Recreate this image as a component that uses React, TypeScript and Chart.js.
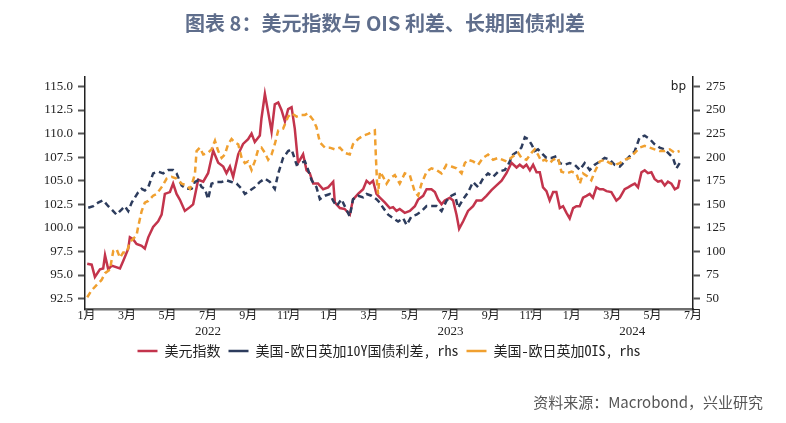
import { useEffect, useRef } from 'react';
import { Chart, registerables } from 'chart.js';

Chart.register(...registerables);

const TITLE = '图表 8：美元指数与 OIS 利差、长期国债利差';
const SOURCE = '资料来源：Macrobond，兴业研究';
const seriesNames = ['美元指数', '美国-欧日英加10Y国债利差, rhs', '美国-欧日英加OIS, rhs'];

// x values are months elapsed since 1 Jan 2022
const monthTicks = [0, 2, 4, 6, 8, 10, 12, 14, 16, 18, 20, 22, 24, 26, 28, 30];
const yearLabels = ['2022', '2023', '2024'];
const yearCenters = [6, 18, 27];
const yearStarts = [0, 12, 24];
const leftTicks = [92.5, 95, 97.5, 100, 102.5, 105, 107.5, 110, 112.5, 115];
const rightTicks = [50, 75, 100, 125, 150, 175, 200, 225, 250, 275];

const dxyMonths = [
  0.03, 0.25, 0.41, 0.66, 0.82, 0.91, 1.07, 1.24, 1.65, 1.81,
  2.06, 2.14, 2.3, 2.47, 2.72, 2.88, 3.05, 3.29, 3.54, 3.71,
  3.87, 4.12, 4.28, 4.45, 4.61, 4.86, 5.11, 5.27, 5.52, 5.77,
  6.01, 6.26, 6.51, 6.76, 6.92, 7.09, 7.25, 7.5, 7.74, 7.99,
  8.16, 8.32, 8.57, 8.65, 8.82, 8.98, 9.15, 9.31, 9.48, 9.64,
  9.81, 9.97, 10.14, 10.3, 10.46, 10.55, 10.71, 10.88, 11.04, 11.21,
  11.45, 11.7, 11.95, 12.2, 12.28, 12.53, 12.77, 13.02, 13.18, 13.43,
  13.68, 13.85, 14.01, 14.17, 14.34, 14.51, 14.75, 15.0, 15.16, 15.33,
  15.49, 15.74, 15.99, 16.24, 16.4, 16.65, 16.82, 17.06, 17.23, 17.39,
  17.56, 17.72, 17.97, 18.13, 18.3, 18.43, 18.63, 18.87, 19.12, 19.29,
  19.54, 19.78, 20.03, 20.28, 20.53, 20.77, 21.02, 21.27, 21.43, 21.6,
  21.76, 21.93, 22.09, 22.26, 22.42, 22.58, 22.75, 22.91, 23.08, 23.24,
  23.41, 23.57, 23.74, 23.9, 24.07, 24.23, 24.4, 24.56, 24.73, 24.89,
  25.05, 25.22, 25.39, 25.55, 25.72, 25.96, 26.21, 26.38, 26.62, 26.79,
  26.95, 27.12, 27.28, 27.45, 27.61, 27.77, 27.94, 28.1, 28.27, 28.44,
  28.6, 28.76, 28.93, 29.1, 29.26, 29.34,
];
const dxyValues = [
  96.2, 96.1, 94.8, 95.6, 95.7, 97.1, 95.6, 96.0, 95.7, 96.5,
  97.8, 99.0, 98.8, 98.3, 98.1, 97.8, 99.0, 100.1, 100.7, 101.4,
  103.6, 103.8, 104.7, 103.6, 103.0, 101.8, 102.2, 102.5, 105.1, 104.9,
  105.8, 108.2, 106.9, 106.5, 105.8, 106.5, 105.4, 107.8, 108.9, 109.4,
  110.0, 109.1, 109.8, 111.6, 114.2, 112.3, 110.2, 113.1, 113.3, 112.5,
  111.3, 112.6, 112.8, 110.5, 106.9, 107.2, 107.8, 106.1, 105.8, 104.7,
  104.7, 104.1, 104.3, 104.9, 102.7, 102.1, 102.0, 101.4, 103.0, 103.6,
  104.1, 105.0, 104.7, 105.0, 103.6, 103.2, 102.7, 102.1, 102.2, 101.8,
  102.0, 101.6, 101.8, 102.3, 103.0, 103.4, 104.1, 104.1, 103.8, 103.0,
  102.5, 102.9, 103.2, 102.9, 101.4, 99.9, 100.7, 101.8, 102.3, 102.9,
  102.9, 103.4, 104.0, 104.5, 105.0, 105.8, 106.9, 106.4, 106.7, 106.4,
  106.7, 106.1, 106.7, 105.9, 105.9, 104.3, 103.9, 102.9, 103.8, 103.8,
  102.1, 102.3, 101.6, 101.0, 102.1, 102.3, 102.3, 103.2, 103.4, 103.6,
  103.2, 104.3, 104.1, 104.1, 103.9, 103.8, 102.9, 103.2, 104.1, 104.3,
  104.5, 104.7, 104.3, 105.9, 106.1, 105.8, 105.9, 105.2, 104.9, 105.0,
  104.5, 104.9, 104.7, 104.1, 104.3, 105.1,
];

const bondMonths = [
  0.08, 0.33, 0.57, 0.82, 1.07, 1.24, 1.48, 1.73, 1.89, 2.06,
  2.23, 2.39, 2.55, 2.72, 2.88, 3.05, 3.29, 3.54, 3.79, 4.04,
  4.28, 4.45, 4.7, 4.95, 5.19, 5.36, 5.52, 5.69, 5.85, 6.01,
  6.18, 6.43, 6.68, 6.92, 7.17, 7.42, 7.67, 7.83, 8.08, 8.32,
  8.57, 8.82, 9.07, 9.31, 9.48, 9.72, 9.97, 10.14, 10.39, 10.55,
  10.8, 10.96, 11.13, 11.37, 11.54, 11.79, 12.03, 12.2, 12.37, 12.61,
  12.77, 13.02, 13.18, 13.43, 13.68, 13.85, 14.09, 14.34, 14.51, 14.67,
  14.92, 15.16, 15.41, 15.66, 15.83, 16.07, 16.32, 16.57, 16.82, 17.06,
  17.31, 17.56, 17.8, 18.05, 18.21, 18.38, 18.63, 18.87, 19.12, 19.37,
  19.61, 19.86, 20.11, 20.36,
  20.69, 20.85, 21.1, 21.35, 21.51, 21.68, 21.84, 22.01, 22.17, 22.33,
  22.5, 22.75, 23.0, 23.24, 23.41, 23.65, 23.9, 24.15, 24.4, 24.64,
  24.89, 25.14, 25.39, 25.63, 25.88, 26.13, 26.38, 26.62, 26.87, 27.12,
  27.36, 27.61, 27.86, 28.1, 28.35, 28.6, 28.85, 29.01, 29.18, 29.34,
];
const bondSpread = [
  146.3, 148, 151.8, 154.3, 148, 144.5, 139, 144.5, 148, 142.7,
  151.8, 157.3, 162.8, 166.4, 164.6, 168.2, 182.8, 184.6, 182.8, 186.4,
  186.4, 182.8, 170, 166.4, 166.4, 173.7, 175.5, 168.2, 166.4, 155.4,
  171.9, 173.7, 173.7, 175.5, 173.7, 171.9, 166.4, 160.9, 164.6, 168.2,
  173.7, 177.3, 173.7, 166.4, 182.8, 199.2, 206.5, 208.3, 191.9, 193.7,
  195.5, 186.4, 175.5, 168.2, 155.4, 159.1, 160.9, 153.6, 148.1, 155.4,
  148.1, 137.2, 155.4, 159.1, 157.3, 160.9, 159.1, 155.4, 151.8, 146.3,
  139, 135.3, 131.7, 135.3, 128.1, 137.2, 139, 142.7, 148.1, 148.1,
  148.1, 142.7, 153.6, 159.1, 160.9, 146.3, 155.4, 162.7, 173.7, 168.2,
  177.3, 182.8, 179.1, 184.6,
  186.4, 191.9, 202.8, 206.5, 210.1, 221, 219.2, 213.7, 206.5, 208.3,
  204.6, 199.2, 199.2, 201, 193.7, 191.9, 193.7, 191.9, 186.4, 193.7,
  186.4, 191.9, 195.5, 199.2, 197.3, 191.9, 190.1, 195.5, 201, 206.5,
  221, 222.8, 219.2, 213.7, 210.1, 208.3, 202.8, 199.2, 188.2, 193.7,
];

const oisMonths = [
  0.03, 0.25, 0.49, 0.74, 0.91, 1.15, 1.32, 1.48, 1.65, 1.81,
  1.98, 2.14, 2.3, 2.47, 2.55, 2.72, 2.88, 3.05, 3.29, 3.46,
  3.71, 3.96, 4.2, 4.45, 4.7, 4.95, 5.11, 5.27, 5.36, 5.44,
  5.6, 5.77, 6.01, 6.18, 6.35, 6.51, 6.68, 6.84, 7.0, 7.17,
  7.33, 7.5, 7.67, 7.83, 7.99, 8.16, 8.32, 8.49, 8.65, 8.82,
  8.98, 9.15, 9.31, 9.48, 9.72, 9.97, 10.14, 10.39, 10.63, 10.8,
  10.96, 11.21, 11.37, 11.54, 11.79, 12.03, 12.28, 12.53, 12.77, 13.02,
  13.18, 13.43, 13.68, 13.93, 14.09, 14.26, 14.31, 14.37, 14.42, 14.51,
  14.67, 14.84, 15.0, 15.25, 15.49, 15.74, 15.99, 16.24, 16.4, 16.57,
  16.82, 17.06, 17.31, 17.56, 17.8, 18.05, 18.3, 18.55, 18.71, 18.87,
  19.12, 19.37, 19.61, 19.86, 20.11, 20.36, 20.77, 21.1, 21.35, 21.51,
  21.76, 22.01, 22.17, 22.33, 22.5, 22.67, 22.91, 23.08, 23.32, 23.49,
  23.74, 23.99, 24.23, 24.4, 24.56, 24.81, 24.97, 25.14, 25.39, 25.63,
  25.88, 26.13, 26.38, 26.62, 26.87, 27.12, 27.36, 27.61, 27.86, 28.1,
  28.35, 28.6, 28.85, 29.1, 29.34,
];
const oisSpread = [
  51.5, 58.8, 64.3, 69.8, 77, 80.7, 100.7, 102.5, 93.4, 98.9,
  98.9, 109.8, 113.4, 117.1, 126.2, 142.6, 151.8, 153.6, 159.1, 160.9,
  168.2, 177.3, 179.1, 177.3, 171.9, 170, 166.4, 175.5, 182.8, 206.5,
  210.1, 202.8, 204.6, 208.3, 217.4, 206.5, 199.2, 202.8, 213.7, 219.2,
  215.6, 213.7, 199.2, 193.7, 195.5, 186.4, 195.5, 208.3, 210.1, 204.6,
  197.3, 202.8, 213.7, 228.4, 230.2, 243, 246.6, 243, 244.8, 244.8,
  246.6, 239.3, 232, 215.6, 210.1, 210.1, 208.3, 210.1, 204.6, 202.8,
  213.7, 219.2, 222.8, 224.6, 226.5, 228.3, 201, 171.9, 160.9, 184.6,
  179.1, 171.9, 177.3, 181, 171.9, 182.8, 181, 162.7, 159.1, 171.9,
  184.6, 188.2, 186.4, 182.8, 191.9, 190.1, 188.2, 182.8, 193.7, 197.3,
  195.5, 191.9, 199.2, 202.8, 197.3, 199.2, 195.5, 201, 204.6, 199.2,
  197.3, 204.6, 208.3, 202.8, 195.5, 197.3, 193.7, 197.3, 199.2, 184.6,
  182.8, 184.6, 182.8, 171.9, 182.8, 179.1, 175.5, 184.6, 195.5, 197.3,
  193.7, 191.9, 193.7, 197.3, 199.2, 204.6, 210.1, 211.9, 210.1, 208.3,
  206.5, 206.5, 208.3, 204.6, 206.5,
];

const RED = '#c3344c';
const NAVY = '#2d3c5d';
const ORANGE = '#f0a030';
const SERIF = '"Liberation Serif", "Noto Sans CJK SC", serif';

function toPoints(xs: number[], ys: number[]) {
  return xs.map((x, i) => ({ x, y: ys[i] }));
}

export default function App() {
  const ref = useRef<HTMLCanvasElement>(null);

  useEffect(() => {
    document.body.style.margin = '0';
    const canvas = ref.current;
    if (!canvas) return;

    const overlay = {
      id: 'overlay',
      afterDraw(chart: any) {
        const ctx = chart.ctx as CanvasRenderingContext2D;
        const xs = chart.scales.x;
        const yR = chart.scales.yR;
        ctx.save();
        // title
        ctx.font = 'bold 20px "Noto Sans CJK SC", sans-serif';
        ctx.fillStyle = '#5f6e8c';
        ctx.textAlign = 'center';
        ctx.textBaseline = 'middle';
        ctx.fillText(TITLE, 385, 23);
        // longer year-start ticks
        ctx.strokeStyle = '#555';
        ctx.lineWidth = 1.5;
        yearStarts.forEach((v) => {
          const px = xs.getPixelForValue(v);
          ctx.beginPath();
          ctx.moveTo(px, xs.top);
          ctx.lineTo(px, xs.top + 7);
          ctx.stroke();
        });
        // year labels
        ctx.font = `13px ${SERIF}`;
        ctx.fillStyle = '#222';
        ctx.textAlign = 'center';
        yearLabels.forEach((t, i) => {
          ctx.fillText(t, xs.getPixelForValue(yearCenters[i]), 332);
        });
        // unit
        ctx.font = '12px "DejaVu Sans", sans-serif';
        ctx.textAlign = 'right';
        ctx.fillStyle = '#222';
        ctx.fillText('bp', yR.left - 7, yR.getPixelForValue(275));
        // source
        ctx.font = '15px "Noto Sans CJK SC", sans-serif';
        ctx.fillStyle = '#555';
        ctx.textAlign = 'right';
        ctx.fillText(SOURCE, 763, 402);
        ctx.restore();
      },
    };

    const chart = new Chart(canvas, {
      type: 'line',
      data: {
        datasets: [
          {
            label: seriesNames[0],
            data: toPoints(dxyMonths, dxyValues),
            yAxisID: 'yL',
            borderColor: RED,
            backgroundColor: RED,
            borderWidth: 2.5,
            pointRadius: 0,
            tension: 0,
            order: 3,
          },
          {
            label: seriesNames[1],
            data: toPoints(bondMonths, bondSpread),
            yAxisID: 'yR',
            borderColor: NAVY,
            backgroundColor: NAVY,
            borderWidth: 2.5,
            borderDash: [6, 4],
            pointRadius: 0,
            tension: 0,
            order: 2,
          },
          {
            label: seriesNames[2],
            data: toPoints(oisMonths, oisSpread),
            yAxisID: 'yR',
            borderColor: ORANGE,
            backgroundColor: ORANGE,
            borderWidth: 2.5,
            borderDash: [6, 4],
            pointRadius: 0,
            tension: 0,
            order: 1,
          },
        ],
      },
      options: {
        responsive: false,
        maintainAspectRatio: false,
        animation: false,
        layout: { padding: { top: 77, bottom: 55, left: 0, right: 0 } },
        plugins: {
          title: { display: false },
          tooltip: { enabled: false },
          legend: {
            position: 'bottom',
            align: 'center',
            fullSize: false,
            labels: {
              usePointStyle: true,
              pointStyle: 'line',
              pointStyleWidth: 20,
              boxHeight: 14,
              padding: 8,
              color: '#222',
              font: { family: '"Noto Sans Mono CJK SC", "Liberation Mono", "Noto Sans CJK SC", monospace', size: 14 },
              sort: (a: any, b: any) => a.datasetIndex - b.datasetIndex,
            },
          },
        },
        scales: {
          x: {
            type: 'linear',
            min: -0.08,
            max: 30,
            afterBuildTicks: (s: any) => {
              s.ticks = monthTicks.map((v) => ({ value: v }));
            },
            afterFit: (s: any) => {
              s.height = 27;
            },
            ticks: {
              autoSkip: false,
              maxRotation: 0,
              padding: -4,
              color: '#222',
              font: { family: SERIF, size: 12 },
              callback: (v: any) => `${(Math.round(Number(v)) % 12) + 1}月`,
            },
            grid: { drawOnChartArea: false, drawTicks: true, tickLength: 4, tickColor: '#555', tickWidth: 1.5 },
            border: { display: true, color: '#6e6e6e', width: 2.5 },
          },
          yL: {
            type: 'linear',
            position: 'left',
            min: 91.4,
            max: 116,
            afterBuildTicks: (s: any) => {
              s.ticks = leftTicks.map((v) => ({ value: v }));
            },
            afterFit: (s: any) => {
              s.width = 85;
            },
            ticks: {
              padding: 5,
              color: '#222',
              font: { family: SERIF, size: 13 },
              callback: (v: any) => Number(v).toFixed(1),
            },
            grid: { drawOnChartArea: false, drawTicks: true, tickLength: 7, tickColor: '#555', tickWidth: 2 },
            border: { display: true, color: '#222', width: 1.5 },
          },
          yR: {
            type: 'linear',
            position: 'right',
            min: 39,
            max: 285,
            afterBuildTicks: (s: any) => {
              s.ticks = rightTicks.map((v) => ({ value: v }));
            },
            afterFit: (s: any) => {
              s.width = 93;
            },
            ticks: {
              padding: 6,
              color: '#222',
              font: { family: SERIF, size: 13 },
              callback: (v: any) => String(Math.round(Number(v))),
            },
            grid: { drawOnChartArea: false, drawTicks: true, tickLength: 7, tickColor: '#555', tickWidth: 2 },
            border: { display: true, color: '#222', width: 1.5 },
          },
        },
      },
      plugins: [overlay],
    } as any);

    return () => chart.destroy();
  }, []);

  return (
    <div style={{ position: 'absolute', left: 0, top: 0, width: 786, height: 423, background: '#fff' }}>
      <canvas ref={ref} width={786} height={423} style={{ display: 'block', width: 786, height: 423 }} />
    </div>
  );
}
